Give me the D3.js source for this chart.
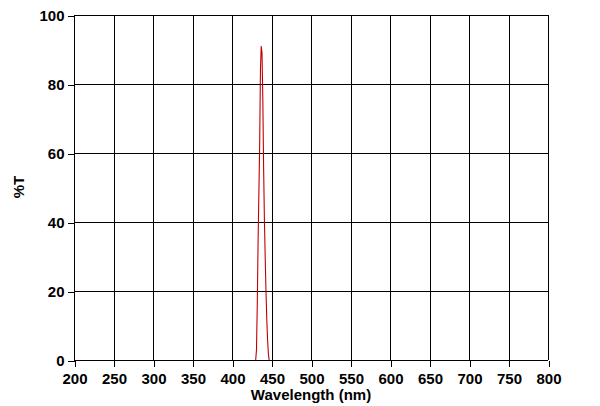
<!DOCTYPE html>
<html>
<head>
<meta charset="utf-8">
<script src="https://cdn.jsdelivr.net/npm/d3@7"></script>
<style>
body { margin: 0; background: #fff; }
svg { display: block; }
.grid line { stroke: #000; stroke-width: 1; shape-rendering: crispEdges; }
.tick text { font-family: Arial, "Liberation Sans", sans-serif; font-weight: bold; font-size: 15px; fill: #000; }
.label { font-family: Arial, "Liberation Sans", sans-serif; font-weight: bold; font-size: 15px; fill: #000; }
</style>
</head>
<body>
<svg width="600" height="406"></svg>
<script>
window.onload = function(){
var svg = d3.select('svg');

// transmission curve, wavelength in nm / %T
var wavelengths = [430, 431, 432, 433, 434, 435, 436, 437, 438, 439, 440, 441, 442, 443, 444, 445, 446, 447];
var transmission = [0, 3, 16, 34, 48, 62, 84, 91, 89, 76, 56, 41, 30, 20, 12, 6, 2, 0];

var xTicks = [200, 250, 300, 350, 400, 450, 500, 550, 600, 650, 700, 750, 800];
var yTicks = [0, 20, 40, 60, 80, 100];

var left = 74, right = 548, top = 15, bottom = 360;

var x = d3.scaleLinear().domain([200, 800]).range([left, right]);
var y = d3.scaleLinear().domain([0, 100]).range([bottom, top]);

// grid
var grid = svg.append('g').attr('class', 'grid');
grid.selectAll('.vline').data(xTicks).enter().append('line')
  .attr('x1', function(d){ return Math.round(x(d)) + 0.5; })
  .attr('x2', function(d){ return Math.round(x(d)) + 0.5; })
  .attr('y1', top).attr('y2', bottom);
grid.selectAll('.hline').data(yTicks).enter().append('line')
  .attr('x1', left).attr('x2', right)
  .attr('y1', function(d){ return Math.round(y(d)) + 0.5; })
  .attr('y2', function(d){ return Math.round(y(d)) + 0.5; });

// curve
var pts = wavelengths.map(function(w, i){ return [w, transmission[i]]; });
svg.append('path')
  .datum(pts)
  .attr('fill', 'none')
  .attr('stroke', '#c00000')
  .attr('stroke-width', 1.1)
  .attr('d', d3.line().x(function(d){ return x(d[0]); }).y(function(d){ return y(d[1]); }));

// axes
var xAxis = svg.append('g')
  .attr('class', 'grid')
  .attr('transform', 'translate(0.5,' + (bottom + 0.5) + ')')
  .call(d3.axisBottom(x).tickValues(xTicks).tickSize(6).tickPadding(7).tickSizeOuter(0));
xAxis.select('.domain').remove();
xAxis.selectAll('line').attr('stroke', '#000');

var yAxis = svg.append('g')
  .attr('class', 'grid')
  .attr('transform', 'translate(' + (left + 0.5) + ',0.5)')
  .call(d3.axisLeft(y).tickValues(yTicks).tickSize(7).tickPadding(3).tickSizeOuter(0));
yAxis.select('.domain').remove();
yAxis.selectAll('line').attr('stroke', '#000');

svg.append('text')
  .attr('class', 'label')
  .attr('x', 311)
  .attr('y', 400)
  .attr('text-anchor', 'middle')
  .text('Wavelength (nm)');

svg.append('text')
  .attr('class', 'label')
  .attr('transform', 'translate(24,187) rotate(-90)')
  .attr('text-anchor', 'middle')
  .text('%T');
};
</script>
</body>
</html>
